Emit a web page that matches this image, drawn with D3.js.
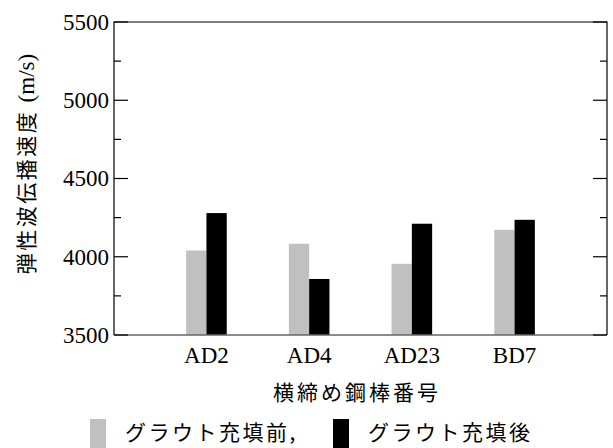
<!DOCTYPE html>
<html>
<head>
<meta charset="utf-8">
<script src="https://cdn.jsdelivr.net/npm/d3@7"></script>
<style>
  body { margin: 0; background: #fff; }
  svg { display: block; }
  .serif { font-family: "Liberation Serif", "DejaVu Serif", serif; }
  .cjk { font-family: "Noto Sans CJK JP", sans-serif; }
</style>
</head>
<body>
<svg id="chart" width="613" height="448"></svg>
<script>
// data
const categories = ["AD2", "AD4", "AD23", "BD7"];
const beforeGrout = [4040, 4083, 3955, 4172];
const afterGrout = [4279, 3858, 4211, 4236];
const seriesNames = ["グラウト充填前,", "グラウト充填後"];
const yTicks = [3500, 4000, 4500, 5000, 5500];

const svg = d3.select("#chart");
const plotL = 114, plotR = 607, plotT = 22, plotB = 335;

const x = d3.scalePoint()
  .domain(categories)
  .range([plotL, plotR])
  .padding(0.9);

const y = d3.scaleLinear()
  .domain([3500, 5500])
  .range([plotB, plotT]);

const barW = 20.3;

// bars
const g = svg.append("g");
g.selectAll(".before")
  .data(categories)
  .enter().append("rect")
    .attr("x", d => x(d) - barW)
    .attr("y", (d, i) => y(beforeGrout[i]))
    .attr("width", barW)
    .attr("height", (d, i) => y(3500) - y(beforeGrout[i]))
    .attr("fill", "#c0c0c0");

g.selectAll(".after")
  .data(categories)
  .enter().append("rect")
    .attr("x", d => x(d))
    .attr("y", (d, i) => y(afterGrout[i]))
    .attr("width", barW)
    .attr("height", (d, i) => y(3500) - y(afterGrout[i]))
    .attr("fill", "#000");

// frame
svg.append("line")
  .attr("x1", plotL).attr("x2", plotR).attr("y1", plotB).attr("y2", plotB)
  .attr("stroke", "#666").attr("stroke-width", 1.5);
svg.append("path")
  .attr("d", `M${plotL},${plotB}V${plotT}H${plotR}V${plotB}`)
  .attr("fill", "none").attr("stroke", "#000").attr("stroke-width", 1.2);

// ticks, inward on both sides
const minor = d3.range(3750, 5500, 500);
const ticks = svg.append("g").attr("stroke", "#000").attr("stroke-width", 1.2);
yTicks.forEach(v => {
  ticks.append("line").attr("x1", plotL).attr("x2", plotL + 14).attr("y1", y(v)).attr("y2", y(v));
  ticks.append("line").attr("x1", plotR).attr("x2", plotR - 14).attr("y1", y(v)).attr("y2", y(v));
});
minor.forEach(v => {
  ticks.append("line").attr("x1", plotL).attr("x2", plotL + 7).attr("y1", y(v)).attr("y2", y(v));
  ticks.append("line").attr("x1", plotR).attr("x2", plotR - 7).attr("y1", y(v)).attr("y2", y(v));
});

// tick labels
svg.append("g").selectAll("text")
  .data(yTicks)
  .enter().append("text")
    .attr("class", "serif")
    .attr("x", plotL - 5)
    .attr("y", d => y(d))
    .attr("dy", "0.34em")
    .attr("text-anchor", "end")
    .style("font-size", "23px")
    .text(d => d);

svg.append("g").selectAll("text")
  .data(categories)
  .enter().append("text")
    .attr("class", "serif")
    .attr("x", d => x(d))
    .attr("y", 363)
    .attr("text-anchor", "middle")
    .style("font-size", "23px")
    .text(d => d);

// axis titles
svg.append("text")
  .attr("class", "cjk")
  .attr("x", 357).attr("y", 400)
  .attr("text-anchor", "middle")
  .style("font-size", "21px")
  .style("letter-spacing", "3px")
  .text("横締め鋼棒番号");

const yt = svg.append("text")
  .attr("transform", "translate(34,164) rotate(-90)")
  .attr("text-anchor", "middle")
  .style("font-size", "21px");
yt.append("tspan").attr("class", "cjk").style("letter-spacing", "2.5px").text("弾性波伝播速度 ");
yt.append("tspan").attr("class", "serif").style("font-size", "23px").text("(m/s)");

// legend
const legend = [
  { name: seriesNames[0], color: "#c0c0c0", x: 90 },
  { name: seriesNames[1], color: "#000", x: 333 }
];
const lg = svg.append("g").selectAll("g")
  .data(legend)
  .enter().append("g");
lg.append("rect")
  .attr("x", d => d.x).attr("y", 419)
  .attr("width", 16).attr("height", 30)
  .attr("fill", d => d.color);
lg.append("text")
  .attr("class", "cjk")
  .attr("x", d => d.x + 35).attr("y", 440)
  .style("font-size", "21px")
  .style("letter-spacing", "2.5px")
  .text(d => d.name);
</script>
</body>
</html>
